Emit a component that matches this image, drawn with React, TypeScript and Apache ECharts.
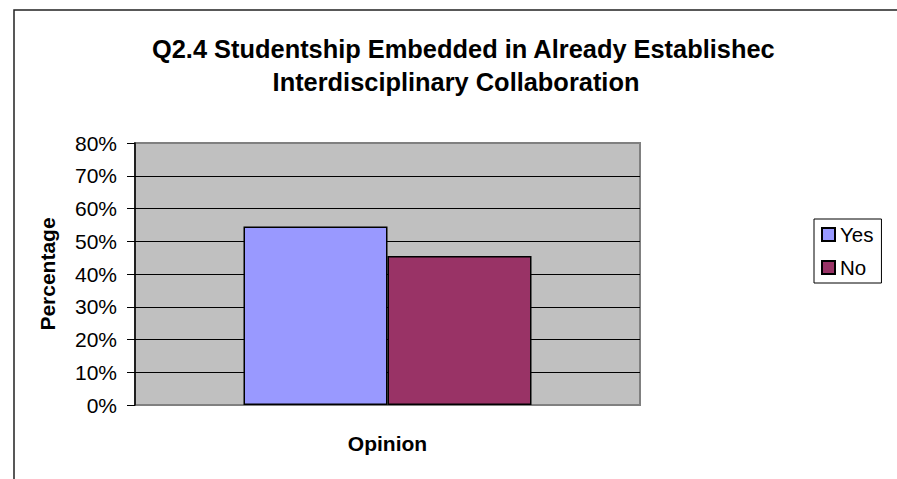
import React, { useEffect, useRef } from "react";
import * as echarts from "echarts";

const categories = [""];
const seriesNames = ["Yes", "No"];
const yesValues = [54.5];
const noValues = [45.5];
const titleLines = [
  "Q2.4 Studentship Embedded in Already Establishec",
  "Interdisciplinary Collaboration",
];
const yAxisName = "Percentage";
const xAxisName = "Opinion";
const yTicks = { min: 0, max: 80, interval: 10 };

const FONT = "'Liberation Sans', Arial, sans-serif";

export default function App() {
  const ref = useRef<HTMLDivElement>(null);
  useEffect(() => {
    if (!ref.current) return;
    const chart = echarts.init(ref.current, undefined, { renderer: "svg" });
    chart.setOption({
      animation: false,
      backgroundColor: "#ffffff",
      textStyle: { fontFamily: FONT },
      grid: {
        left: 135,
        top: 143,
        width: 505,
        height: 262,
        show: true,
        backgroundColor: "#C0C0C0",
        borderColor: "#808080",
        borderWidth: 2,
      },
      legend: {
        orient: "vertical",
        left: 814,
        top: 219,
        data: seriesNames,
        icon: "rect",
        itemWidth: 13,
        itemHeight: 13,
        itemGap: 12,
        itemTextGap: 5,
        padding: [5, 8, 5, 7],
        borderColor: "#000",
        borderWidth: 1,
        textStyle: { fontSize: 20.5, color: "#000", fontFamily: FONT, lineHeight: 20 },
      },
      xAxis: {
        type: "category",
        data: categories,
        name: xAxisName,
        nameLocation: "middle",
        nameGap: 28,
        nameTextStyle: { fontSize: 21, fontWeight: "bold", color: "#000", fontFamily: FONT },
        axisLine: { show: false },
        axisTick: { show: false },
        axisLabel: { show: false },
      },
      yAxis: {
        type: "value",
        min: yTicks.min,
        max: yTicks.max,
        interval: yTicks.interval,
        name: yAxisName,
        nameLocation: "middle",
        nameRotate: 90,
        nameGap: 77,
        nameTextStyle: { fontSize: 21, fontWeight: "bold", color: "#000", fontFamily: FONT },
        axisLine: { show: true, lineStyle: { color: "#000", width: 1.5 } },
        axisTick: { show: true, length: 8, lineStyle: { color: "#000", width: 1 } },
        axisLabel: {
          formatter: "{value}%",
          fontSize: 21,
          color: "#000",
          margin: 18,
          fontFamily: FONT,
        },
        splitLine: {
          show: true,
          showMinLine: false,
          showMaxLine: false,
          lineStyle: { color: "#000", width: 1 },
        },
      },
      series: [
        {
          name: seriesNames[0],
          type: "bar",
          data: yesValues,
          barWidth: 144,
          barGap: "0%",
          itemStyle: { color: "#9999FF", borderColor: "#000", borderWidth: 1.5 },
        },
        {
          name: seriesNames[1],
          type: "bar",
          data: noValues,
          barWidth: 144,
          barGap: "0%",
          itemStyle: { color: "#993366", borderColor: "#000", borderWidth: 1.5 },
        },
      ],
      graphic: [
        {
          type: "polyline",
          shape: { points: [[14, 479], [14, 10], [897, 10]] },
          style: { stroke: "#222", lineWidth: 1.5, fill: null },
          silent: true,
        },
        {
          type: "text",
          left: 152,
          top: 36,
          style: {
            text: titleLines[0],
            font: `bold 25.4px ${FONT}`,
            fill: "#000",
          },
        },
        {
          type: "text",
          x: 456,
          y: 69,
          style: {
            text: titleLines[1],
            font: `bold 25.4px ${FONT}`,
            fill: "#000",
            align: "center",
            verticalAlign: "top",
          },
        },
      ],
    });
    return () => chart.dispose();
  }, []);
  return (
    <div
      ref={ref}
      style={{ position: "fixed", left: 0, top: 0, width: 897, height: 479 }}
    />
  );
}
